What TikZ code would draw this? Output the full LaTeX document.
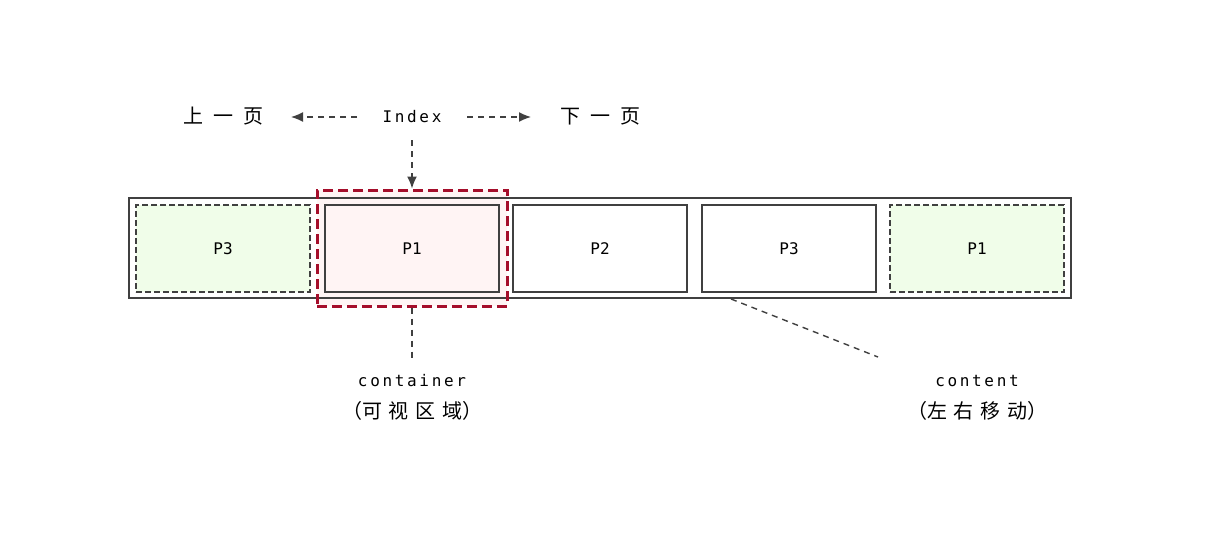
\documentclass[tikz,border=0pt]{standalone}
\usepackage{fontspec}
\setmainfont{DejaVu Sans Mono}
\newfontfamily\cjk{Noto Sans CJK SC}
\usetikzlibrary{arrows.meta}
\definecolor{linegray}{HTML}{404040}
\definecolor{greenfill}{HTML}{F0FDE9}
\definecolor{pinkfill}{HTML}{FFF4F4}
\definecolor{redline}{HTML}{A50E2B}
\tikzset{
  page/.style={draw=linegray, line width=1.5pt, minimum width=174pt, minimum height=87pt, inner sep=0pt, font=\fontsize{16}{18}\selectfont},
  ghost/.style={page, dash pattern=on 6pt off 3pt, fill=greenfill},
  conn/.style={draw=linegray, line width=1.4pt, dash pattern=on 6pt off 5pt},
  arr/.style={conn, -{Latex[length=12pt,width=10pt]}},
  lbl/.style={font=\fontsize{16}{18}\selectfont, inner sep=0pt},
  cjklbl/.style={font=\cjk\fontsize{20}{24}\selectfont, inner sep=0pt}
}
\begin{document}
\begin{tikzpicture}[x=1pt,y=-1pt]
\useasboundingbox (0,0) rectangle (1205,541);
% red container fill
\fill[pinkfill] (317,190) rectangle (507,306);
% content outer
\node[draw=linegray, line width=1.5pt, minimum width=942pt, minimum height=100pt, inner sep=0pt] (content) at (600,248) {};
\fill[pinkfill] (317,199) rectangle (507,297);
\node[ghost] (p3a) at (223,248.5) {P3};
\node[page, fill=pinkfill] (p1) at (412,248.5) {P1};
\node[page, fill=white] (p2) at (600,248.5) {P2};
\node[page, fill=white] (p3) at (789,248.5) {P3};
\node[ghost] (p1b) at (977,248.5) {P1};
\node[draw=redline, line width=3pt, dash pattern=on 10pt off 5pt, minimum width=190pt, minimum height=116pt, inner sep=0pt] (container) at (412,248) {};
% top labels
\node[lbl] (index) at (412,117) {I\,n\,d\,e\,x};
\node[cjklbl] (prev) at (223,116) {上\enspace 一\enspace 页};
\node[cjklbl] (next) at (600,116) {下\enspace 一\enspace 页};
\coordinate (il) at (357,117);
\coordinate (ir) at (467,117);
\coordinate (id) at (412,140);
\draw[arr] (il) -- (291,117) coordinate (pl);
\draw[arr] (ir) -- (531,117) coordinate (pr);
\draw[arr] (id) -- (container.north);
% bottom labels
\node[lbl] (ctext) at (412,381) {c\,o\,n\,t\,a\,i\,n\,e\,r};
\node[cjklbl] (ctext2) at (412,411) {（可\,\,视\,\,区\,\,域）};
\coordinate (cend) at (412,358);
\draw[conn] (container.south) -- (cend);
\node[lbl] (ntext) at (977,381) {c\,o\,n\,t\,e\,n\,t};
\node[cjklbl] (ntext2) at (977,411) {（左\,\,右\,\,移\,\,动）};
\coordinate (nstart) at (731,299);
\coordinate (nend) at (878,357);
\draw[conn] (nstart) -- (nend);
\end{tikzpicture}
\end{document}
